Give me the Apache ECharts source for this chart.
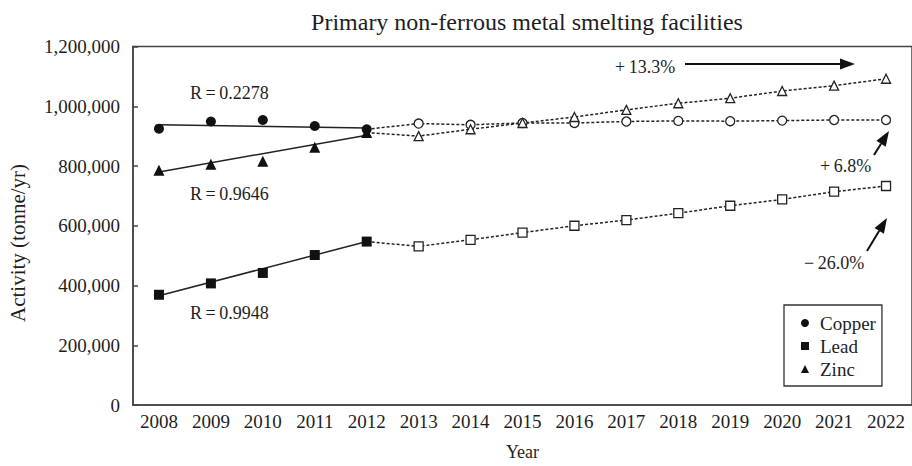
<!DOCTYPE html>
<html>
<head>
<meta charset="utf-8">
<script src="https://cdn.jsdelivr.net/npm/echarts@6/dist/echarts.min.js"></script>
<style>
  html, body { margin: 0; padding: 0; background: #fff; }
  #chart { width: 912px; height: 466px; }
</style>
</head>
<body>
<div id="chart"></div>
<script>
// Years on the category axis
const years = ['2008','2009','2010','2011','2012','2013','2014','2015',
               '2016','2017','2018','2019','2020','2021','2022'];

// Observed activity 2008-2012 (tonne/yr)
const copperActual = [925000, 949000, 954000, 934000, 923000];
const leadActual   = [369000, 407000, 442000, 502000, 547000];
const zincActual   = [786000, 806000, 816000, 863000, 912000];

// Regression line end values (2008 and 2012)
const copperFit = [938000, 927000];
const leadFit   = [366000, 547000];
const zincFit   = [780000, 903000];

// Projected activity 2013-2022 (tonne/yr)
const copperProj = [942000, 938000, 944000, 944000, 949000, 951000, 950000, 952000, 954000, 954000];
const leadProj   = [531000, 553000, 577000, 600000, 619000, 642000, 667000, 688000, 714000, 733000];
const zincProj   = [900000, 923000, 944000, 964000, 988000, 1010000, 1027000, 1051000, 1069000, 1092000];

// Y-axis ticks
const yMin = 0, yMax = 1200000, yStep = 200000;

const SERIF = '"Liberation Serif", "Times New Roman", serif';
const INK = '#1e1e1e';
const nObs = copperActual.length;

function padObserved(arr) {
  return years.map((_, i) => (i < arr.length ? arr[i] : null));
}
function fitLine(ends) {
  return years.map((_, i) => (i === 0 ? ends[0] : i === nObs - 1 ? ends[1] : null));
}
function projection(actual, proj) {
  return years.map((_, i) => {
    if (i < nObs - 1) return null;
    if (i === nObs - 1) return { value: actual[nObs - 1], symbol: 'none' };
    return proj[i - nObs];
  });
}

function observedSeries(name, symbol, size, data) {
  return {
    name, type: 'line', data: padObserved(data),
    symbol, symbolSize: size,
    lineStyle: { width: 0, opacity: 0 },
    itemStyle: { color: '#111' },
    z: 5, silent: true
  };
}
function fitSeries(name, ends) {
  return {
    name: name + ' trend', type: 'line', data: fitLine(ends),
    connectNulls: true, symbol: 'none',
    lineStyle: { color: '#222', width: 1.5 },
    z: 3, silent: true
  };
}
function projSeries(name, symbol, size, actual, proj) {
  return {
    name: name + ' projection', type: 'line', data: projection(actual, proj),
    symbol, symbolSize: size, showSymbol: true,
    lineStyle: { color: '#222', width: 1.5, type: [3, 2] },
    itemStyle: { color: '#fff', borderColor: '#222', borderWidth: 1.3 },
    z: 4, silent: true
  };
}

// Arrow annotation: shaft plus filled head
function arrow(x1, y1, x2, y2) {
  const ang = Math.atan2(y2 - y1, x2 - x1);
  const L = 15, W = 5.5;
  const bx = x2 - L * Math.cos(ang), by = y2 - L * Math.sin(ang);
  const px = -Math.sin(ang) * W, py = Math.cos(ang) * W;
  return [
    { type: 'line', shape: { x1, y1, x2: bx, y2: by }, style: { stroke: '#111', lineWidth: 2 }, silent: true },
    { type: 'polygon', shape: { points: [[x2, y2], [bx + px, by + py], [bx - px, by - py]] },
      style: { fill: '#111' }, silent: true }
  ];
}
function label(text, x, y, size, align) {
  return {
    type: 'text', silent: true,
    style: { text, x, y, fill: INK, font: size + 'px ' + SERIF, align: align || 'left', verticalAlign: 'middle' }
  };
}

const chart = echarts.init(document.getElementById('chart'), null, { renderer: 'svg' });

chart.setOption({
  animation: false,
  backgroundColor: '#fff',
  textStyle: { fontFamily: SERIF, color: INK },
  grid: {
    left: 133, top: 46.5, bottom: 58.5, right: -7,
    show: true, borderColor: '#444', borderWidth: 1.5, backgroundColor: 'transparent'
  },
  legend: {
    data: ['Copper', 'Lead', 'Zinc'],
    orient: 'vertical',
    left: 784, top: 305,
    padding: [8, 6, 7, 16],
    itemGap: 3,
    itemWidth: 10, itemHeight: 10,
    borderColor: '#333', borderWidth: 1.3,
    backgroundColor: '#fff',
    textStyle: { fontFamily: SERIF, fontSize: 19, color: INK, lineHeight: 20, padding: [0, 0, 0, 5] },
    selectedMode: false
  },
  xAxis: {
    type: 'category', data: years, boundaryGap: true,
    name: 'Year', nameLocation: 'middle', nameGap: 38,
    nameTextStyle: { fontFamily: SERIF, fontSize: 18, color: INK },
    axisLine: { lineStyle: { color: '#444', width: 1.5 } },
    axisTick: { inside: true, length: 6, lineStyle: { color: '#444', width: 1.5 } },
    axisLabel: { fontFamily: SERIF, fontSize: 19, color: INK, margin: 7 },
    splitLine: { show: false }
  },
  yAxis: {
    type: 'value', min: yMin, max: yMax, interval: yStep,
    axisLine: { show: true, lineStyle: { color: '#444', width: 1.5 } },
    axisTick: { show: true, inside: true, length: 5, lineStyle: { color: '#444', width: 1.5 } },
    axisLabel: { fontFamily: SERIF, fontSize: 19, color: INK, margin: 13,
                 formatter: v => v.toLocaleString('en-US') },
    splitLine: { show: false }
  },
  series: [
    fitSeries('Copper', copperFit),
    fitSeries('Lead', leadFit),
    fitSeries('Zinc', zincFit),
    projSeries('Copper', 'circle', 9, copperActual, copperProj),
    projSeries('Lead', 'rect', 9, leadActual, leadProj),
    projSeries('Zinc', 'triangle', 9, zincActual, zincProj),
    observedSeries('Copper', 'circle', 10, copperActual),
    observedSeries('Lead', 'rect', 10, leadActual),
    observedSeries('Zinc', 'triangle', 11, zincActual)
  ],
  graphic: [
    label('Primary non-ferrous metal smelting facilities', 527, 22, 24, 'center'),
    {
      type: 'text', silent: true, rotation: Math.PI / 2, x: 18, y: 243,
      style: { text: 'Activity (tonne/yr)', fill: INK, font: '21px ' + SERIF, align: 'center', verticalAlign: 'middle' }
    },
    label('R\u2009=\u20090.2278', 190, 93, 18),
    label('R\u2009=\u20090.9646', 190, 194, 18),
    label('R\u2009=\u20090.9948', 190, 313, 18),
    label('+\u200913.3%', 615, 67, 18),
    label('+\u20096.8%', 820, 166, 18),
    label('\u2212\u200926.0%', 804, 263, 18),
    ...arrow(685, 64, 855, 64),
    ...arrow(874, 155, 889, 131),
    ...arrow(867, 251, 887, 218)
  ]
});
</script>
</body>
</html>
